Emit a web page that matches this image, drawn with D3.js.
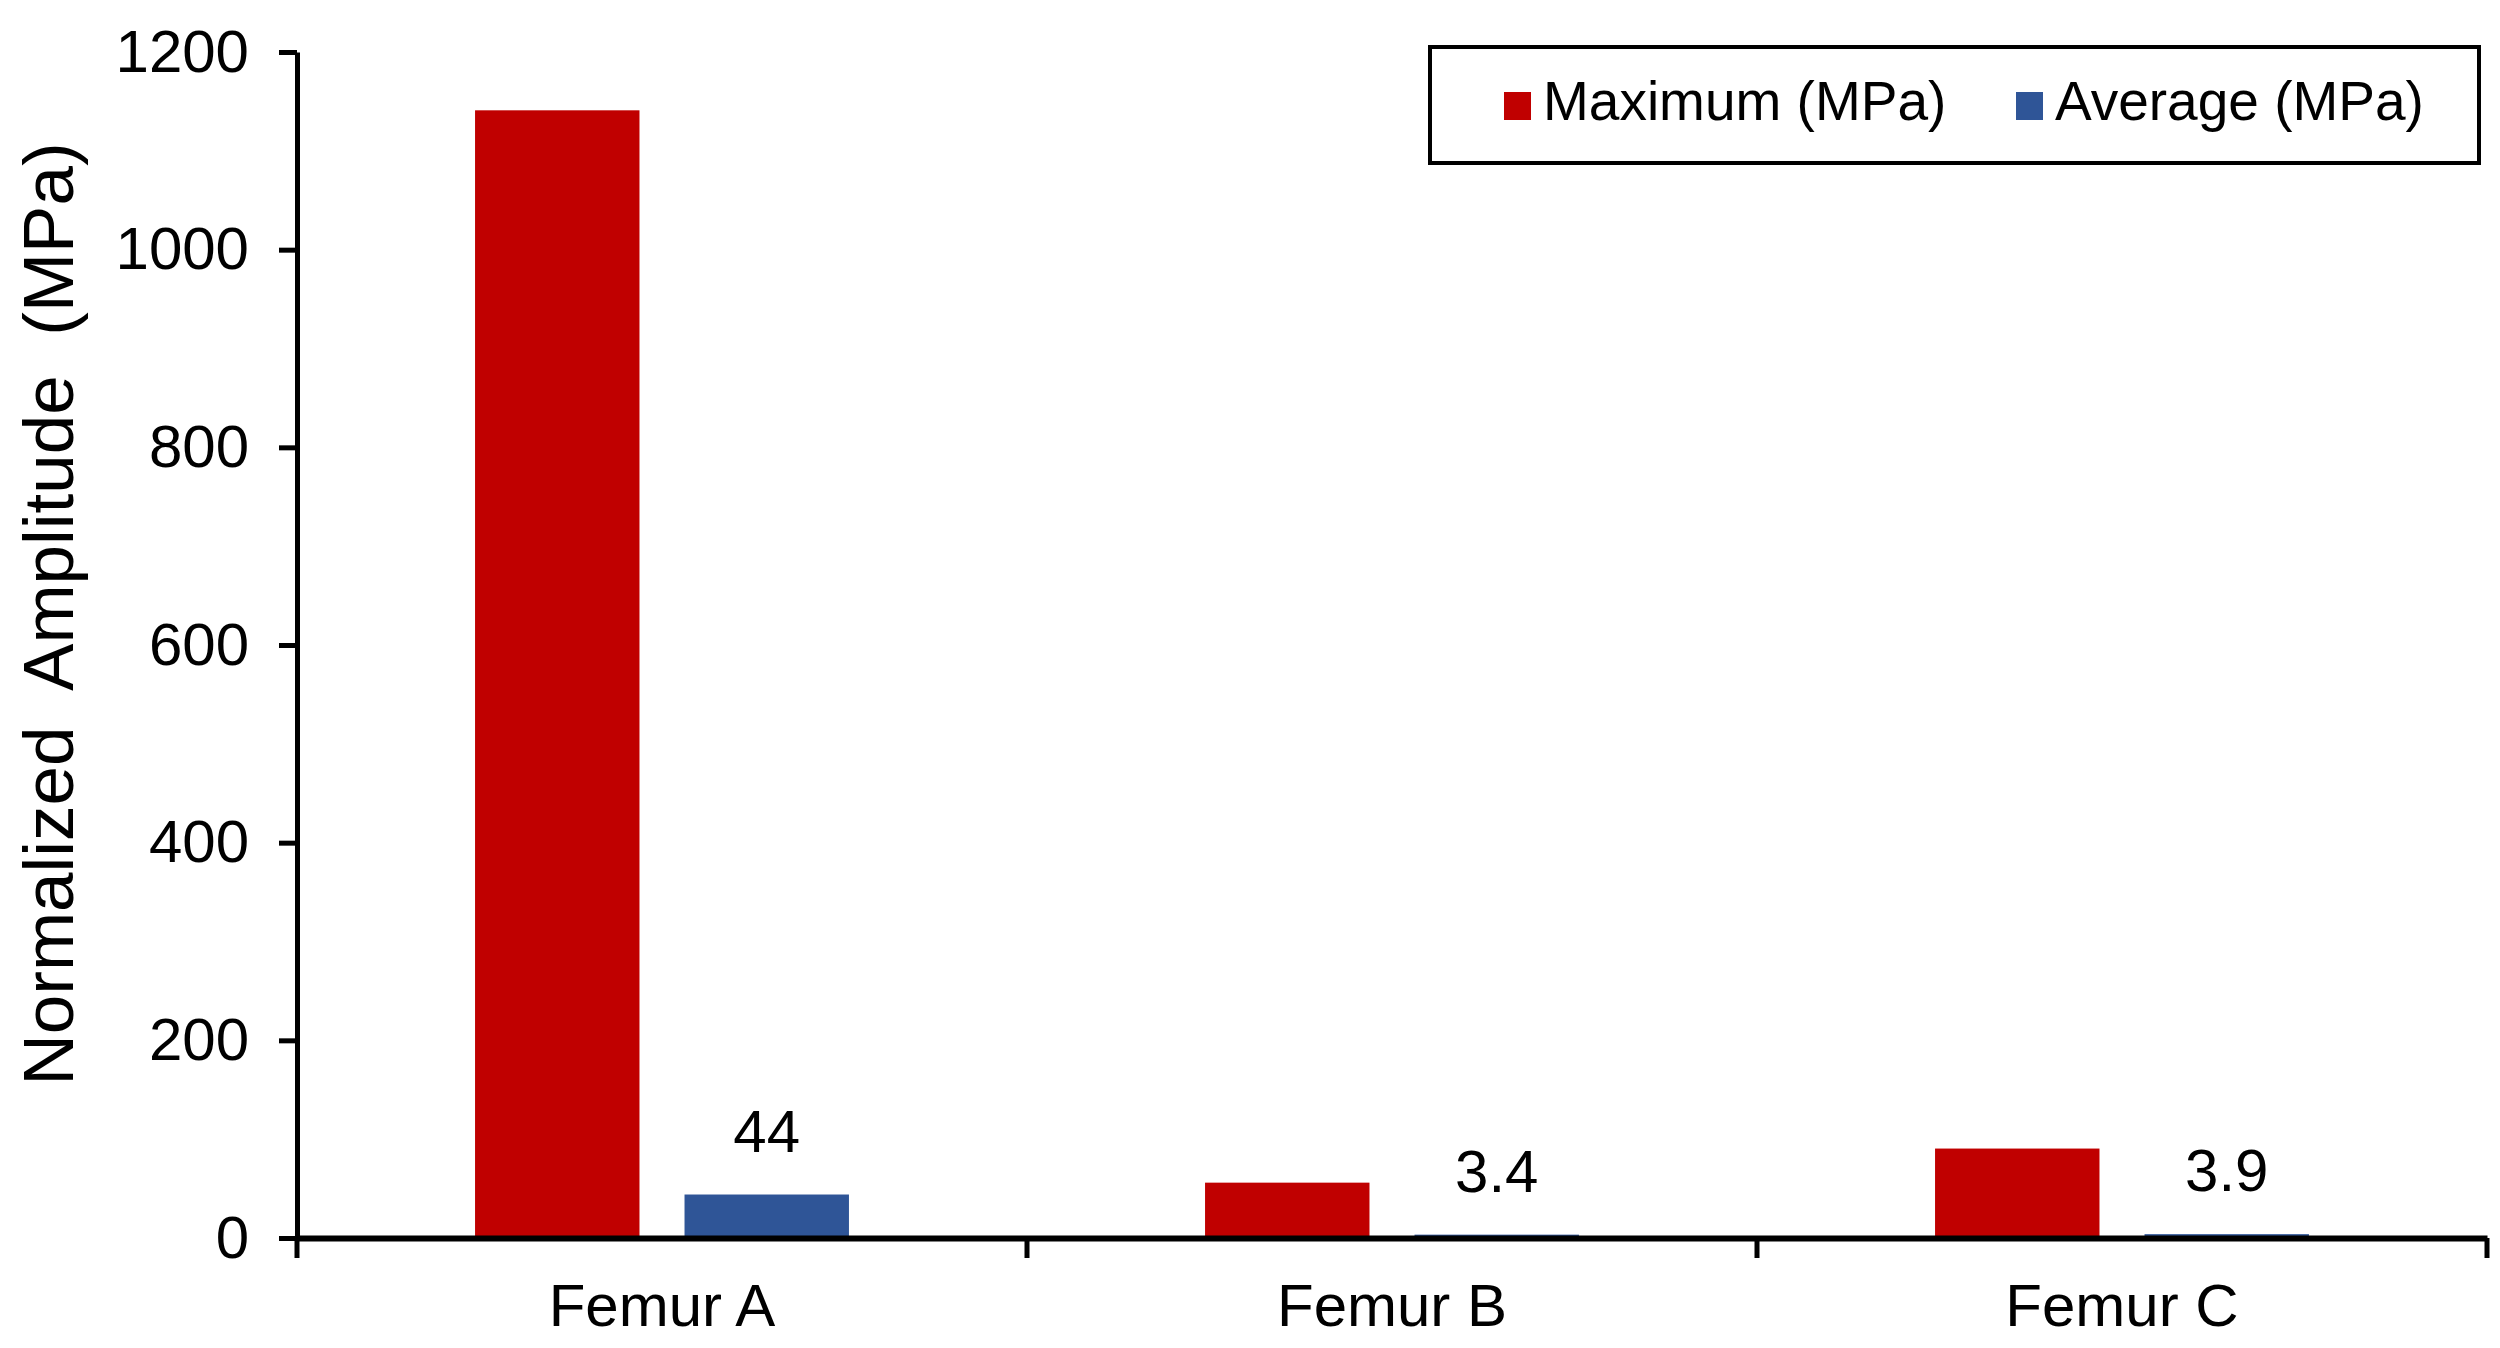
<!DOCTYPE html>
<html>
<head>
<meta charset="utf-8">
<script src="https://cdn.jsdelivr.net/npm/d3@7"></script>
<style>
  body { margin: 0; background: #fff; }
  text { font-family: Arial, "Liberation Sans", sans-serif; fill: #000; }
</style>
</head>
<body>
<div id="chart"></div>
<script>
// data
const categories = ["Femur A", "Femur B", "Femur C"];
const seriesNames = ["Maximum (MPa)", "Average (MPa)"];
const maximumValues = [1141, 56, 90.5];
const averageValues = [44, 3.4, 3.9];
const averageLabels = ["44", "3.4", "3.9"];
const yTicks = [0, 200, 400, 600, 800, 1000, 1200];
const colors = ["#C00000", "#2F5597"];

const W = 2500, H = 1348;
const margin = { top: 52, right: 13, bottom: 110, left: 297 };
const width = W - margin.left - margin.right,
  height = H - margin.top - margin.bottom;

const svg = d3.select("#chart")
  .append("svg")
  .attr("width", W)
  .attr("height", H);

svg.append("rect").attr("width", W).attr("height", H).attr("fill", "#fff");

const g = svg.append("g")
  .attr("transform", `translate(${margin.left},${margin.top})`);

// scales
const x0 = d3.scaleBand()
  .domain(categories)
  .range([0, width])
  .padding(0);

const x1 = d3.scaleBand()
  .domain(seriesNames)
  .range([0, x0.bandwidth()])
  .paddingInner(0.215)
  .paddingOuter(0.85);

const y = d3.scaleLinear()
  .domain([0, 1200])
  .range([height, 0]);

const rows = categories.map((c, i) => ({
  cat: c,
  values: [
    { s: seriesNames[0], v: maximumValues[i], label: null },
    { s: seriesNames[1], v: averageValues[i], label: averageLabels[i] }
  ]
}));

// bars
const groups = g.selectAll(".grp")
  .data(rows)
  .join("g")
  .attr("class", "grp")
  .attr("transform", d => `translate(${x0(d.cat)},0)`);

groups.selectAll("rect")
  .data(d => d.values)
  .join("rect")
  .attr("x", d => x1(d.s))
  .attr("width", x1.bandwidth())
  .attr("y", d => y(d.v))
  .attr("height", d => height - y(d.v))
  .attr("fill", (d, i) => colors[i]);

// data labels on the average series
groups.selectAll(".lbl")
  .data(d => d.values.filter(v => v.label))
  .join("text")
  .attr("class", "lbl")
  .attr("x", d => x1(d.s) + x1.bandwidth() / 2)
  .attr("y", d => y(d.v) - 43)
  .attr("text-anchor", "middle")
  .style("font-size", "60px")
  .text(d => d.label);

// Y axis
const yAxis = g.append("g")
  .call(d3.axisLeft(y).tickValues(yTicks).tickFormat(d3.format("d"))
    .tickSize(18).tickSizeOuter(0).tickPadding(30));
yAxis.selectAll("text").style("font-size", "60px");
yAxis.selectAll("line, path").attr("stroke", "#000").attr("stroke-width", 5);

// X axis (labels centred, ticks between categories)
const xAxis = g.append("g")
  .attr("transform", `translate(0,${height})`)
  .call(d3.axisBottom(x0).tickSize(0).tickSizeOuter(0).tickPadding(45));
xAxis.selectAll("text").style("font-size", "60px");
xAxis.select(".domain").attr("stroke", "#000").attr("stroke-width", 6);

const bounds = categories.map(c => x0(c)).concat([x0.range()[1]]);
xAxis.selectAll(".sep")
  .data(bounds)
  .join("line")
  .attr("class", "sep")
  .attr("x1", d => d).attr("x2", d => d)
  .attr("y1", 0).attr("y2", 20)
  .attr("stroke", "#000")
  .attr("stroke-width", 5);

// Y title
svg.append("text")
  .attr("transform", `translate(73,614) rotate(-90)`)
  .attr("text-anchor", "middle")
  .style("font-size", "71px")
  .style("white-space", "pre")
  .text("Normalized  Amplitude  (MPa)");

// legend
const legend = svg.append("g");
legend.append("rect")
  .attr("x", 1430).attr("y", 47)
  .attr("width", 1049).attr("height", 116)
  .attr("fill", "#fff")
  .attr("stroke", "#000")
  .attr("stroke-width", 4);

const legX = [1504, 2016];
seriesNames.forEach((s, i) => {
  legend.append("rect")
    .attr("x", legX[i]).attr("y", 92)
    .attr("width", 27).attr("height", 28)
    .attr("fill", colors[i]);
  legend.append("text")
    .attr("x", legX[i] + 39).attr("y", 120)
    .style("font-size", "55px")
    .text(s);
});
</script>
</body>
</html>
